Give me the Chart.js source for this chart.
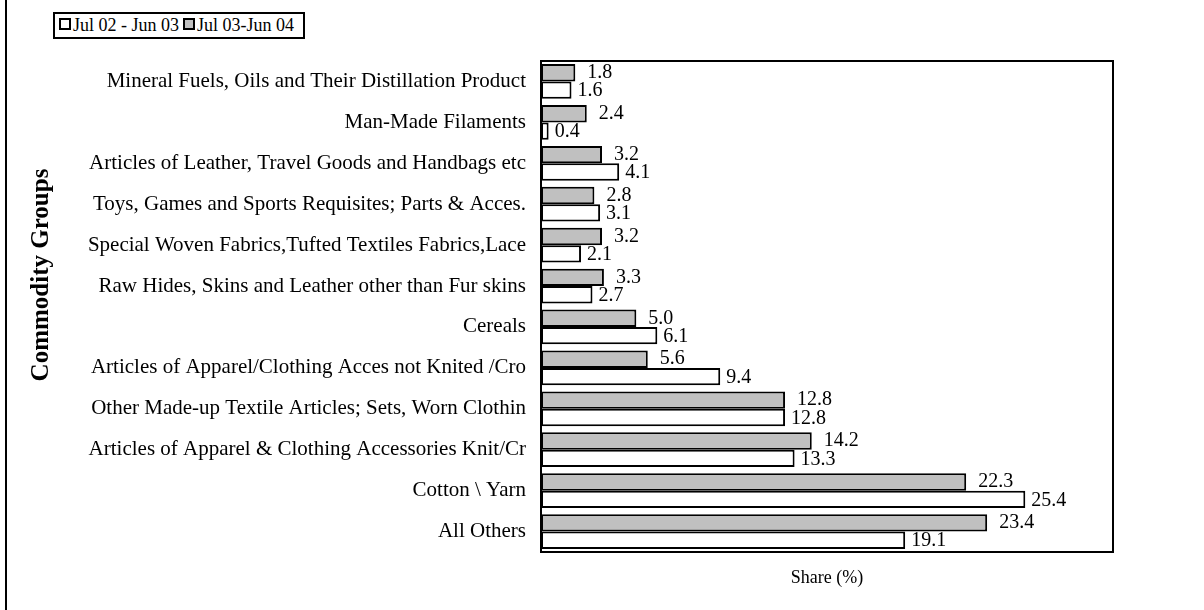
<!DOCTYPE html>
<html lang="en">
<head>
    <meta charset="UTF-8">
    <title>Commodity Groups Share</title>
    <style>
        body { margin: 0; background: #fff; }
        .wrap { position: relative; width: 1204px; height: 610px; }
        .frame-left { position: absolute; left: 5px; top: 0; width: 2px; height: 610px; background: #000; }
        #legend {
            position: absolute; left: 53px; top: 12px;
            border: 2px solid #000; padding: 1px 5px 1px 4px;
            font: 18px "Liberation Serif", "Times New Roman", serif;
            white-space: nowrap; background: #fff;
        }
        #legend .sw {
            display: inline-block; width: 8px; height: 8px;
            border: 2px solid #000; margin-right: 2px; vertical-align: 1px;
        }
        #legend .item { margin-right: 4px; }
    </style>
    <script src="https://cdn.jsdelivr.net/npm/chart.js"></script>
</head>
<body>
    <div class="wrap">
        <canvas id="shareChart"></canvas>
        <div class="frame-left"></div>
        <div id="legend"></div>
    </div>

    <script>
        // categorias (de cima para baixo)
        const categories = [
            "Mineral Fuels, Oils and Their Distillation Product",
            "Man-Made Filaments",
            "Articles of Leather, Travel Goods and Handbags etc",
            "Toys, Games and Sports Requisites; Parts & Acces.",
            "Special Woven Fabrics,Tufted Textiles Fabrics,Lace",
            "Raw Hides, Skins and Leather other than Fur skins",
            "Cereals",
            "Articles of Apparel/Clothing Acces not Knited /Cro",
            "Other Made-up Textile Articles; Sets, Worn Clothin",
            "Articles of Apparel & Clothing Accessories Knit/Cr",
            "Cotton \\ Yarn",
            "All Others"
        ];
        const share0304 = [1.8, 2.4, 3.2, 2.8, 3.2, 3.3, 5.0, 5.6, 12.8, 14.2, 22.3, 23.4];
        const share0203 = [1.6, 0.4, 4.1, 3.1, 2.1, 2.7, 6.1, 9.4, 12.8, 13.3, 25.4, 19.1];
        const seriesNames = ["Jul 03-Jun 04", "Jul 02 - Jun 03"];
        const xMax = 30;

        const serif = '"Liberation Serif", "Times New Roman", serif';

        // moldura da área do gráfico
        const frame = {
            id: "frame",
            afterDatasetsDraw(chart) {
                const a = chart.chartArea;
                const ctx = chart.ctx;
                ctx.save();
                ctx.strokeStyle = "#000";
                ctx.lineWidth = 2;
                ctx.strokeRect(a.left, a.top, a.right - a.left, a.bottom - a.top);
                ctx.restore();
            }
        };

        // rótulos de valor
        const valueLabels = {
            id: "valueLabels",
            afterDraw(chart) {
                const ctx = chart.ctx;
                ctx.save();
                ctx.font = "20px " + serif;
                ctx.fillStyle = "#000";
                ctx.textAlign = "left";
                ctx.textBaseline = "middle";
                chart.data.datasets.forEach((ds, i) => {
                    const dx = i === 0 ? 12 : 6;
                    const dy = i === 0 ? 0 : 1;
                    chart.getDatasetMeta(i).data.forEach((bar, j) => {
                        ctx.fillText(ds.data[j].toFixed(1), bar.x + dx, bar.y + dy);
                    });
                });
                ctx.restore();
            }
        };

        // título do eixo Y
        const yTitle = {
            id: "yTitle",
            afterDraw(chart) {
                const ctx = chart.ctx;
                ctx.save();
                ctx.translate(42, 275);
                ctx.rotate(-Math.PI / 2);
                ctx.font = "bold 25px " + serif;
                ctx.fillStyle = "#000";
                ctx.textAlign = "center";
                ctx.textBaseline = "middle";
                ctx.fillText("Commodity Groups", 0, 0);
                ctx.restore();
            }
        };

        const shareChart = new Chart(document.getElementById("shareChart"), {
            type: "bar",
            data: {
                labels: categories,
                datasets: [{
                    label: seriesNames[0],
                    data: share0304,
                    backgroundColor: "#c0c0c0",
                    borderColor: "#000",
                    borderWidth: 2,
                    borderSkipped: false
                }, {
                    label: seriesNames[1],
                    data: share0203,
                    backgroundColor: "#ffffff",
                    borderColor: "#000",
                    borderWidth: 2,
                    borderSkipped: false
                }]
            },
            options: {
                indexAxis: "y",
                responsive: true,
                maintainAspectRatio: false,
                animation: false,
                categoryPercentage: 0.85,
                barPercentage: 1.0,
                layout: { padding: { top: 61, right: 91, left: 0, bottom: 0 } },
                plugins: {
                    legend: { display: false },
                    tooltip: { enabled: false }
                },
                scales: {
                    x: {
                        min: 0,
                        max: xMax,
                        ticks: { display: false },
                        grid: { display: false, drawTicks: false },
                        border: { display: false },
                        title: {
                            display: true,
                            text: "Share (%)",
                            color: "#000",
                            font: { family: serif, size: 18 },
                            padding: { top: 0, bottom: 21 }
                        },
                        afterFit(scale) { scale.height = 58; }
                    },
                    y: {
                        ticks: {
                            color: "#000",
                            font: { family: serif, size: 21 },
                            padding: 15,
                            autoSkip: false
                        },
                        grid: { display: false, drawTicks: false },
                        border: { display: false },
                        afterFit(scale) { scale.width = 541; }
                    }
                }
            },
            plugins: [frame, valueLabels, yTitle]
        });

        // legenda (ordem invertida como no original)
        const legend = document.getElementById("legend");
        shareChart.data.datasets.slice().reverse().forEach(ds => {
            const item = document.createElement("span");
            item.className = "item";
            const sw = document.createElement("span");
            sw.className = "sw";
            sw.style.background = ds.backgroundColor;
            item.appendChild(sw);
            item.appendChild(document.createTextNode(ds.label));
            legend.appendChild(item);
        });
    </script>
</body>
</html>
